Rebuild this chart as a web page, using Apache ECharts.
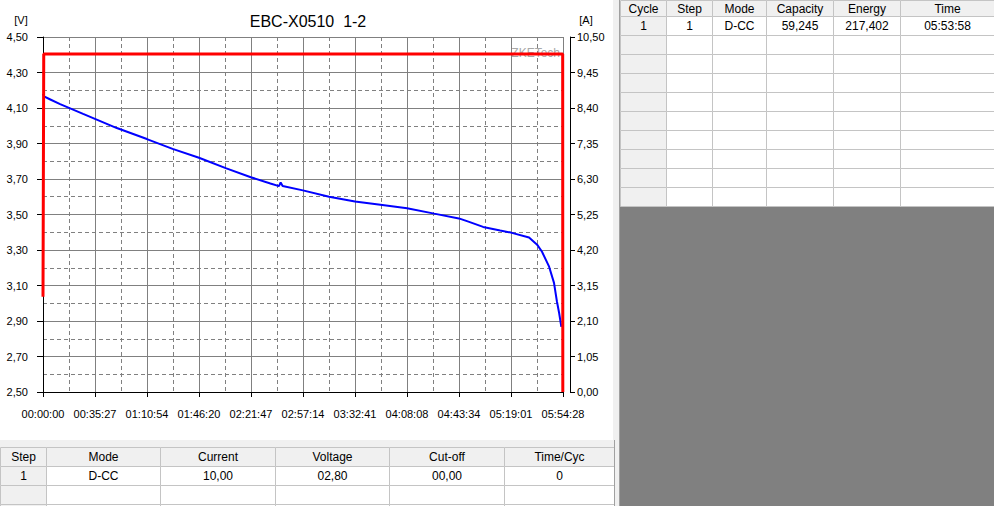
<!DOCTYPE html>
<html><head><meta charset="utf-8">
<script src="https://cdn.jsdelivr.net/npm/echarts@6/dist/echarts.min.js"></script>
<style>html,body{margin:0;padding:0;background:#fff;}#c{width:994px;height:506px;}</style>
</head><body><div id="c"></div>
<script>
// ---- data ----
const chartTitle = 'EBC-X0510  1-2';
const timeLabels = ['00:00:00','00:35:27','01:10:54','01:46:20','02:21:47','02:57:14','03:32:41','04:08:08','04:43:34','05:19:01','05:54:28'];
const voltageTime = [0, 40, 300, 700, 1640, 3020, 4250, 5300, 6380, 7500, 8500, 9300, 9650, 9720, 9800, 10630, 11700, 12760, 13800, 14890, 16000, 17010, 17400, 18000, 18700, 19140, 19880, 20210, 20410, 20700, 20900, 21020, 21110, 21200];
const voltage = [4.180, 4.165, 4.148, 4.122, 4.067, 3.987, 3.925, 3.87, 3.82, 3.76, 3.71, 3.675, 3.66, 3.68, 3.66, 3.636, 3.60, 3.573, 3.555, 3.535, 3.505, 3.478, 3.46, 3.43, 3.41, 3.398, 3.37, 3.33, 3.29, 3.206, 3.115, 3.01, 2.945, 2.867];
const currentTime = [0, 30, 21255, 21260];
const current = [2.82, 10.0, 10.0, 0];
const stepHeaders = ['Step','Mode','Current','Voltage','Cut-off','Time/Cyc'];
const stepRows = [['1','D-CC','10,00','02,80','00,00','0'], ['','','','','','']];
const resultHeaders = ['Cycle','Step','Mode','Capacity','Energy','Time'];
const resultRows = [['1','1','D-CC','59,245','217,402','05:53:58'],[],[],[],[],[],[],[],[],[]];

// ---- layout ----
const FONT = '"Liberation Sans", Arial, sans-serif';
const X_INT = 2126.8, X_MAX = 21268;
const fmt2 = v => v.toFixed(2).replace('.', ',');

const graphics = [];
function rect(x, y, w, h, fill, stroke) {
  graphics.push({type:'rect', silent:true, shape:{x:x, y:y, width:w, height:h},
    style:{fill:fill, stroke:stroke || null, lineWidth:1}});
}
function txt(x, y, s, size, color, align) {
  graphics.push({type:'text', silent:true, x:x, y:y,
    style:{text:s, font: size + 'px ' + FONT, fill:color || '#000', align: align || 'center', verticalAlign:'middle'}});
}
function table(cols, rowsY, headers, rows) {
  for (let r = 0; r < rowsY.length - 1; r++) {
    for (let c = 0; c < cols.length - 1; c++) {
      const fixed = (r === 0 || c === 0);
      rect(cols[c] + 0.5, rowsY[r] + 0.5, cols[c+1] - cols[c], rowsY[r+1] - rowsY[r], fixed ? '#f0f0f0' : '#ffffff', '#c4c4c4');
      const s = r === 0 ? headers[c] : ((rows[r-1] || [])[c] || '');
      if (s) txt((cols[c] + cols[c+1]) / 2 + 0.5, (rowsY[r] + rowsY[r+1]) / 2 + 0.5, s, 12);
    }
  }
}
// frames
rect(0, 440, 614, 7, '#f0f0f0');
rect(613, 0, 7, 506, '#f0f0f0');
rect(620, 206, 374, 300, '#808080');
table([0,46,160,275,389,504,614], [447,466,485,504,523], stepHeaders, stepRows);
table([620,666,712,766,833,900,994], [0,16,35,54,73,92,111,130,149,168,187,206], resultHeaders, resultRows);
graphics.push({type:'line', silent:true, shape:{x1:619.5,y1:0,x2:619.5,y2:506}, style:{stroke:'#a0a0a0', lineWidth:1}});
graphics.push({type:'line', silent:true, shape:{x1:614.5,y1:440,x2:614.5,y2:506}, style:{stroke:'#a0a0a0', lineWidth:1}});
// axis units + watermark
txt(21, 20, '[V]', 11, '#000');
txt(586, 20, '[A]', 11, '#000');
txt(560, 53, 'ZKETech', 12, '#a8a8a8', 'right');

const chart = echarts.init(document.getElementById('c'), null, {renderer:'svg'});
chart.setOption({
  animation: false,
  backgroundColor: '#ffffff',
  title: {text: chartTitle, left: 303, top: 8, textAlign: 'center',
    textStyle: {fontFamily: FONT, fontSize: 16, fontWeight: 'normal', color: '#000'}},
  grid: {left: 43, top: 37, width: 520, height: 355},
  xAxis: {
    type: 'value', min: 0, max: X_MAX, interval: X_INT, offset: 6,
    axisLine: {show: true, lineStyle: {color: '#000', width: 1}},
    axisTick: {show: true, length: 5, lineStyle: {color: '#000'}},
    axisLabel: {formatter: v => timeLabels[Math.round(v / X_INT)] || '', color: '#000', fontFamily: FONT, fontSize: 11, margin: 10, showMinLabel: true, showMaxLabel: true},
    splitLine: {show: true, lineStyle: {color: '#808080', width: 1}},
    minorTick: {show: false, splitNumber: 2},
    minorSplitLine: {show: true, lineStyle: {color: '#808080', width: 1, type: [4, 3]}}
  },
  yAxis: [{
    type: 'value', position: 'left', min: 2.5, max: 4.5, interval: 0.2, offset: 5,
    axisLine: {show: true, lineStyle: {color: '#000', width: 1}},
    axisTick: {show: true, length: 6, lineStyle: {color: '#000'}},
    axisLabel: {formatter: fmt2, color: '#000', fontFamily: FONT, fontSize: 11, margin: 10},
    splitLine: {show: true, lineStyle: {color: '#808080', width: 1}},
    minorTick: {show: false, splitNumber: 2},
    minorSplitLine: {show: true, lineStyle: {color: '#808080', width: 1, type: [4, 3]}}
  }, {
    type: 'value', position: 'right', min: 0, max: 10.5, interval: 1.05, offset: 7,
    axisLine: {show: true, lineStyle: {color: '#000', width: 1}},
    axisTick: {show: true, length: 5, lineStyle: {color: '#000'}},
    axisLabel: {formatter: fmt2, color: '#000', fontFamily: FONT, fontSize: 11, margin: 7},
    splitLine: {show: false}
  }],
  series: [{
    type: 'line', yAxisIndex: 0, showSymbol: false, clip: false, z: 3,
    data: voltageTime.map((t, i) => [t, voltage[i]]),
    lineStyle: {color: '#0000ff', width: 2}
  }, {
    type: 'line', yAxisIndex: 1, showSymbol: false, clip: false, z: 4,
    data: currentTime.map((t, i) => [t, current[i]]),
    lineStyle: {color: '#ff0000', width: 3}
  }],
  graphic: {elements: graphics}
});
</script></body></html>
